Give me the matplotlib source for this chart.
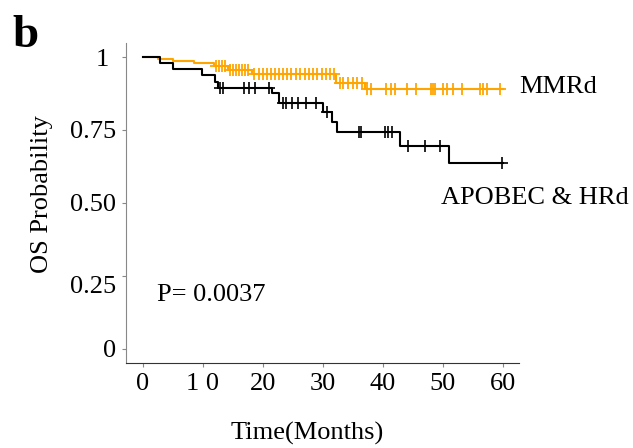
import numpy as np
import matplotlib.pyplot as plt

plt.rcParams['font.family'] = ['Liberation Serif', 'DejaVu Serif']

# Kaplan-Meier steps
mmr_t = [0, 2.5, 5.0, 8.5, 11.8, 14.2, 18.2, 32.2, 37.0, 60]
mmr_s = [1.0, 0.993, 0.986, 0.979, 0.969, 0.955, 0.942, 0.911, 0.890, 0.890]
mmr_cens = [12.2, 12.7, 13.2, 13.7, 14.6, 15.1, 15.6, 16.1, 16.6, 17.1, 17.6,
            18.6, 19.3, 20.0, 20.7, 21.3, 22.0, 22.7, 23.3, 24.0, 24.7, 25.5,
            26.2, 27.0, 27.7, 28.3, 29.0, 29.8, 30.5, 31.2, 31.8,
            32.8, 33.3, 34.2, 35.0, 35.7, 36.5,
            37.3, 38.0, 40.5, 41.3, 42.0, 44.0, 45.5, 48.0, 48.3, 48.7,
            50.0, 50.7, 51.7, 53.2, 56.2, 56.7, 57.3, 59.6]

apo_t = [0, 2.8, 5.0, 9.8, 12.0, 12.5, 21.5, 22.7, 30.0, 31.5, 32.3, 42.8, 51.0, 60]
apo_s = [1.0, 0.979, 0.959, 0.938, 0.914, 0.894, 0.877, 0.842, 0.812, 0.777,
         0.743, 0.695, 0.637, 0.637]
apo_cens = [12.8, 13.3, 16.8, 17.7, 18.7, 21.0, 23.3, 23.8, 24.8, 25.8, 27.2,
            28.8, 30.7, 36.0, 36.3, 40.3, 40.8, 41.5, 44.2, 47.0, 49.5, 59.8]

xticks = [0, 10, 20, 30, 40, 50, 60]
xlabels = ['0', '1 0', '20', '30', '40', '50', '60']
yticks = [0, 0.25, 0.5, 0.75, 1]
ylabels = ['0', '', '0.50', '0.75', '1 ']
# the 0.25 label sits a little below its tick in the original
y25_label_pos = [0.222]
y25_label = ['0.25']


def surv_at(times, surv, pts):
    idx = np.searchsorted(times, pts, side='right') - 1
    return np.array(surv)[idx]


fig = plt.figure(figsize=(6.33, 4.48), dpi=100)
ax = fig.add_axes([0.199, 0.190, 0.621, 0.714])

orange = '#FFA500'
ax.step(mmr_t, mmr_s, where='post', color=orange, lw=1.5)
ax.plot(mmr_cens, surv_at(mmr_t, mmr_s, mmr_cens), ls='none', marker='+',
        ms=8, mew=1.3, color=orange)
ax.step(apo_t, apo_s, where='post', color='black', lw=1.5)
ax.plot(apo_cens, surv_at(apo_t, apo_s, apo_cens), ls='none', marker='+',
        ms=8, mew=1.2, color='black')

ax.set_xlim(-2.8, 62.7)
ax.set_ylim(-0.048, 1.048)
ax.set_xticks(xticks)
ax.set_xticklabels(xlabels)
ax.set_yticks(yticks)
ax.set_yticklabels(ylabels)
ax.set_yticks(y25_label_pos, minor=True)
ax.set_yticklabels(y25_label, minor=True)
ax.tick_params(which='major', labelsize=19, length=3, width=0.8, color='#888888', pad=4)
ax.tick_params(which='minor', axis='y', labelsize=19, length=3, width=0, pad=4)
ax.tick_params(which='minor', axis='x', bottom=False)

for s in ['top', 'right']:
    ax.spines[s].set_visible(False)
ax.spines['left'].set_color('#888888')
ax.spines['bottom'].set_color('#333333')

ax.set_xlabel('Time(Months)', fontsize=19)
ax.xaxis.set_label_coords(0.46, -0.185)
ax.set_ylabel('OS Probability', fontsize=19)
ax.yaxis.set_label_coords(-0.186, 0.528)

ax.text(62.8, 0.897, 'MMRd', fontsize=19, va='center', ha='left', clip_on=False)
ax.text(49.7, 0.517, 'APOBEC & HRd', fontsize=19, va='center', ha='left', clip_on=False)
ax.text(2.3, 0.185, 'P= 0.0037', fontsize=19, va='center', ha='left')

fig.text(0.019, 0.92, 'b', fontsize=34, fontweight='bold', va='center', ha='left')

fig.savefig('out.png', dpi=100)
